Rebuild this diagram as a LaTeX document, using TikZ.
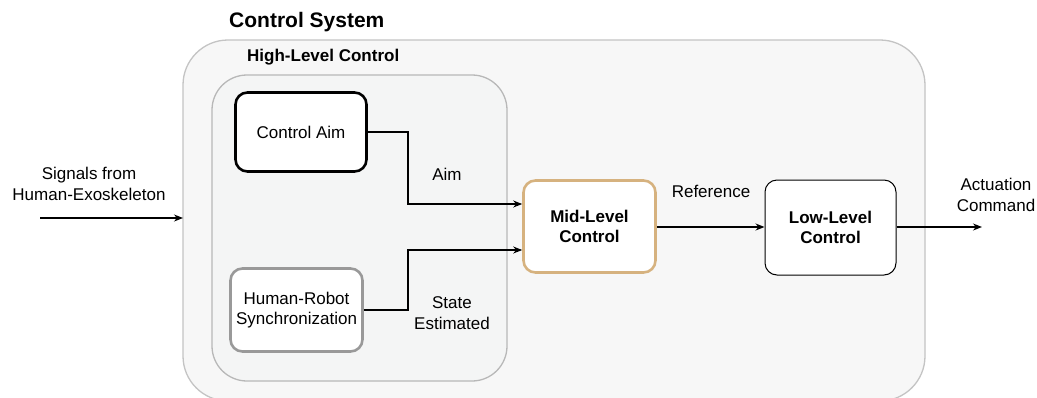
\documentclass[tikz,border=0pt]{standalone}
\usepackage{fontspec}
\setmainfont{Liberation Sans}
\usetikzlibrary{arrows.meta}
\definecolor{outerfill}{HTML}{F7F7F7}
\definecolor{outerline}{HTML}{C4C4C4}
\definecolor{innerfill}{HTML}{F4F5F5}
\definecolor{innerline}{HTML}{B8B8B8}
\definecolor{syncline}{HTML}{999999}
\definecolor{midline}{HTML}{D6B27F}
\tikzset{
  x=1pt, y=-1pt,
  blk/.style={draw, fill=white, rounded corners=12pt, align=center, inner sep=0pt, font=\fontsize{17}{20}\selectfont},
  lbl/.style={align=center, inner sep=0pt, font=\fontsize{17}{21}\selectfont},
  conn/.style={line width=1.4pt, -{Stealth[length=9pt,width=7pt]}},
}
\begin{document}
\begin{tikzpicture}
\useasboundingbox (0,0) rectangle (1037,397);
\clip (0,0) rectangle (1037,397);
\fill[white] (0,0) rectangle (1037,397);
% outer container
\draw[outerline, fill=outerfill, line width=1.3pt, rounded corners=45pt] (183,40) rectangle (925,401);
\node[anchor=west, inner sep=0pt, font=\fontsize{21}{24}\selectfont\bfseries] (title) at (229,22) {Control System};
% inner container
\draw[innerline, fill=innerfill, line width=1.3pt, rounded corners=35pt] (212,75) rectangle (507,381);
\node[anchor=west, inner sep=0pt, font=\fontsize{17}{20}\selectfont\bfseries] (hlc) at (247,57) {High-Level Control};
% blocks
\node[blk, line width=2.6pt, minimum width=131pt, minimum height=79pt] (aim) at (301,132) {Control Aim};
\node[blk, draw=syncline, line width=2.6pt, minimum width=132pt, minimum height=83pt] (sync) at (296.5,310) {Human-Robot\\Synchronization};
\node[blk, draw=midline, line width=2.6pt, minimum width=132pt, minimum height=92pt, font=\fontsize{17}{20}\selectfont\bfseries] (mid) at (589.5,226.5) {Mid-Level\\Control};
\node[blk, line width=1pt, minimum width=131pt, minimum height=95pt, font=\fontsize{17}{20}\selectfont\bfseries] (low) at (830.5,227.5) {Low-Level\\Control};
% coordinates for free ends
\coordinate (inA) at (40,218);
\coordinate (inB) at (183,218);
\coordinate (outB) at (982,227);
% connectors
\draw[conn] (inA) -- (inB);
\draw[conn] (aim.east) -- (408,132) -- (408,204) -- (mid.west |- 0,204);
\draw[conn] (sync.east) -- (408,310) -- (408,250) -- (mid.west |- 0,250);
\draw[conn] (mid.east |- 0,227) -- (low.west |- 0,227);
\draw[conn] (low.east |- 0,227) -- (outB);
% labels
\node[lbl] (lin) at (89,184) {Signals from\\Human-Exoskeleton};
\node[lbl] (laim) at (447,174) {Aim};
\node[lbl] (lstate) at (452,313) {State\\Estimated};
\node[lbl] (lref) at (711,191) {Reference};
\node[lbl] (lout) at (996,195) {Actuation\\Command};
\end{tikzpicture}
\end{document}
